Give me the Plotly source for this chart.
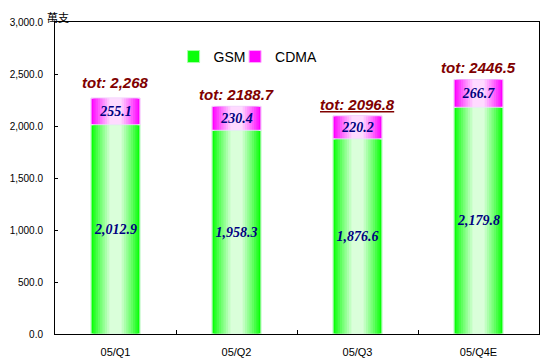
import plotly.graph_objects as go

categories = ["05/Q1", "05/Q2", "05/Q3", "05/Q4E"]
gsm = [2012.9, 1958.3, 1876.6, 2179.8]
cdma = [255.1, 230.4, 220.2, 266.7]
tot_labels = ["tot: 2,268", "tot: 2188.7", "<u>tot: 2096.8</u>", "tot: 2446.5"]
y_ticks = [0, 500, 1000, 1500, 2000, 2500, 3000]
unit_label = "萬支"

totals = [g + c for g, c in zip(gsm, cdma)]

SANS = "Arial, Liberation Sans, sans-serif"
SERIF = "Times New Roman, Liberation Serif, serif"
BAR_W = 0.405
BODY = 8  # default page body margin offset

fig = go.Figure()

def mix(c0, c1, t):
    return "rgb(%d,%d,%d)" % tuple(round(a + (b - a) * t) for a, b in zip(c0, c1))

N = 9
for k in range(N):
    t = k / (N - 1)
    frac = 1 - 0.75 * t
    w = BAR_W * frac
    te = t ** 0.9
    gcol = mix((10, 255, 10), (218, 255, 218), te)
    mcol = mix((255, 0, 255), (255, 218, 255), te)
    edge = k == 0
    fig.add_trace(go.Bar(
        x=categories, y=gsm, width=[w] * 4, name="GSM",
        marker=dict(color=gcol, line=dict(color="#a8ffa8" if edge else gcol, width=1 if edge else 0)),
        showlegend=edge, legend="legend", hoverinfo="skip"))
    fig.add_trace(go.Bar(
        x=categories, y=cdma, base=gsm, width=[w] * 4, name="CDMA",
        marker=dict(color=mcol, line=dict(color="#ffa8ff" if edge else mcol, width=1 if edge else 0)),
        showlegend=edge, legend="legend2", hoverinfo="skip"))

label_font = dict(family=SERIF, size=14, color="#000080", weight="bold", style="italic")
for vals, base in ((gsm, None), (cdma, gsm)):
    fig.add_trace(go.Bar(
        x=categories, y=vals, base=base, width=[BAR_W] * 4, marker=dict(color="rgba(0,0,0,0)"),
        texttemplate="%{y:,.1f}", textposition="inside", insidetextanchor="middle",
        textangle=0, textfont=label_font, constraintext="none",
        showlegend=False, hoverinfo="skip"))

tot_shift = [5, 1, 1, 2]
for c, tv, lab, ys in zip(categories, totals, tot_labels, tot_shift):
    fig.add_annotation(x=c, y=tv, text=lab, showarrow=False, yanchor="bottom", yshift=ys,
                       font=dict(family=SANS, size=15, color="#800000", weight="bold", style="italic"))

fig.add_annotation(xref="paper", yref="paper", x=0, y=1, xshift=-9, yshift=22 - BODY,
                   xanchor="left", yanchor="top", text=unit_label, showarrow=False,
                   borderpad=0,
                   font=dict(family="Noto Sans CJK TC, sans-serif", size=11, color="black"))

legend_common = dict(orientation="h", y=0.888, xanchor="left", yanchor="middle",
                     font=dict(family=SANS, size=14, color="black"),
                     bgcolor="rgba(0,0,0,0)", itemwidth=30)

fig.update_layout(
    width=554 - BODY, height=359 - BODY,
    margin=dict(l=55 - BODY, r=15, t=22 - BODY, b=25),
    paper_bgcolor="white", plot_bgcolor="white",
    barmode="overlay",
    font=dict(family=SANS, size=11, color="black"),
    legend=dict(x=0.245, **legend_common),
    legend2=dict(x=0.372, **legend_common),
    xaxis=dict(showline=True, linecolor="black", linewidth=1, mirror=True,
               ticks="inside", ticklen=4, tickcolor="black", tickson="boundaries",
               showgrid=False, ticklabelstandoff=8, tickfont=dict(size=11), automargin=False),
    yaxis=dict(range=[0, 3000], tickvals=y_ticks, tickformat=",.1f",
               showline=True, linecolor="black", linewidth=1, mirror=True,
               ticks="inside", ticklen=3, tickcolor="black", showgrid=False,
               zeroline=False, ticklabelstandoff=9, tickfont=dict(size=10), automargin=False),
)

fig.write_html("out.html")
